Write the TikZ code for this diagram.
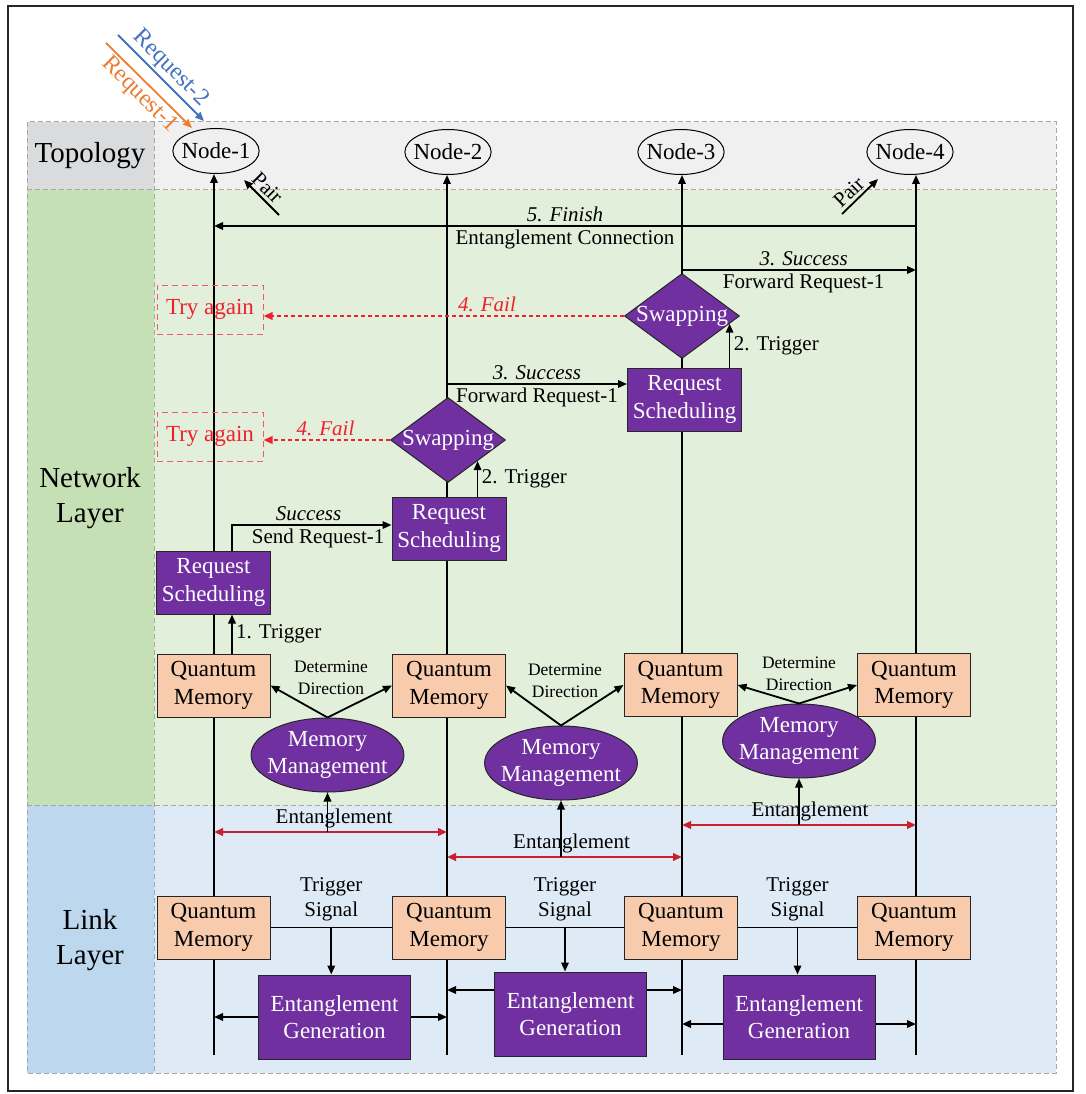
\documentclass[tikz,border=0pt]{standalone}
\usepackage{fontspec}
\setmainfont{Liberation Serif}
\usetikzlibrary{arrows.meta,shapes.geometric,calc}
\definecolor{purp}{HTML}{7030A0}
\definecolor{peach}{HTML}{F8CBAD}
\definecolor{topg}{HTML}{DADBDD}
\definecolor{topl}{HTML}{F0F0F0}
\definecolor{netg}{HTML}{C5E0B4}
\definecolor{netl}{HTML}{E2EFDA}
\definecolor{lnkg}{HTML}{BDD7EE}
\definecolor{lnkl}{HTML}{DEEBF7}
\definecolor{dashg}{HTML}{A6A6A6}
\definecolor{reqblue}{HTML}{4472C4}
\definecolor{reqorange}{HTML}{ED7D31}
\definecolor{failred}{HTML}{F0202C}
\definecolor{entred}{HTML}{C8202C}
\newcommand{\fbig}{\fontsize{29}{35}\selectfont}
\newcommand{\fmain}{\fontsize{23}{27.5}\selectfont}
\newcommand{\flab}{\fontsize{21}{25}\selectfont}
\newcommand{\fsml}{\fontsize{17.5}{22}\selectfont}
\newcommand{\fpair}{\fontsize{21}{25}\selectfont}
\tikzset{
  tip/.tip={Triangle[length=9pt,width=7.5pt]},
  ln/.style={line width=1.8pt},
  arr/.style={line width=1.8pt,-tip},
  ent/.style={line width=2.2pt,draw=entred,tip-tip},
  failarr/.style={line width=2pt,draw=failred,dash pattern=on 4pt off 3pt,-tip},
  band/.style={draw=dashg,dash pattern=on 5pt off 3pt,line width=1pt},
  topo/.style={ellipse,draw,line width=1pt,fill=topl,minimum width=86pt,minimum height=45pt,inner xsep=-4pt,inner ysep=0pt,font=\fmain},
  qm/.style={rectangle,draw=black!85,line width=1pt,fill=peach,minimum width=113pt,minimum height=63pt,inner sep=0pt,align=center,font=\fmain},
  rs/.style={rectangle,draw=black!85,line width=1pt,fill=purp,text=white,minimum width=114pt,minimum height=63pt,inner sep=0pt,align=center,font=\fmain},
  swapbox/.style={diamond,draw=black!85,line width=1pt,fill=purp,text=white,aspect=1.35,minimum width=115pt,minimum height=85pt,inner sep=-1pt,font=\fmain},
  mm/.style={ellipse,draw=black!85,line width=1pt,fill=purp,text=white,minimum width=152pt,minimum height=74pt,inner xsep=-6pt,inner ysep=0pt,align=center,font=\fmain},
  eg/.style={rectangle,draw=black!85,line width=1pt,fill=purp,text=white,minimum width=152pt,minimum height=84pt,inner sep=0pt,align=center,font=\fmain},
  tryb/.style={rectangle,draw=failred!75,dash pattern=on 6pt off 4pt,line width=1pt,minimum width=106pt,minimum height=49pt,inner sep=0pt,text=failred,font=\fmain},
  lab/.style={font=\flab},
  ilab/.style={font=\flab\itshape},
  flab/.style={font=\flab\itshape,text=failred},
}
\begin{document}
\begin{tikzpicture}[x=1pt,y=-1pt]
\useasboundingbox (0,0) rectangle (1085,1094);
\fill[white] (0,0) rectangle (1085,1094);
\draw[black!85,line width=1.2pt] (8,6) rectangle (1073,1091);
% bands
\fill[topg] (27,122) rectangle (154,190);
\fill[topl] (154,122) rectangle (1056,190);
\fill[netg] (27,190) rectangle (154,805);
\fill[netl] (154,190) rectangle (1056,805);
\fill[lnkg] (27,805) rectangle (154,1073);
\fill[lnkl] (154,805) rectangle (1056,1073);
\draw[band] (27,122) rectangle (1056,1073);
\draw[band] (154,122) -- (154,1073);
\draw[band] (27,190) -- (1056,190);
\draw[band] (27,805) -- (1056,805);
\node[font=\fbig] (ltop) at (90,156) {Topology};
\node[font=\fbig,align=center] (lnet) at (90,498) {Network\\Layer};
\node[font=\fbig,align=center] (llnk) at (90,940) {Link\\Layer};
% topology nodes
\node[topo] (n1) at (216,151) {Node-1};
\node[topo] (n2) at (448,152) {Node-2};
\node[topo] (n3) at (681,152) {Node-3};
\node[topo] (n4) at (910,152) {Node-4};
\coordinate (b1) at (214,1055);
\coordinate (b2) at (447,1055);
\coordinate (b3) at (682,1055);
\coordinate (b4) at (916,1055);
\draw[arr] (b1) -- (b1 |- n1.south);
\draw[arr] (b2) -- (b2 |- n2.south);
\draw[arr] (b3) -- (b3 |- n3.south);
\draw[arr] (b4) -- (b4 |- n4.south);
% requests
\coordinate (r2s) at (118,35);
\coordinate (r2e) at (204,121);
\coordinate (r1s) at (106,43);
\coordinate (r1e) at (192,128);
\draw[arr,draw=reqblue] (r2s) -- node[sloped,above,text=reqblue,font=\fontsize{24}{28}\selectfont,inner sep=2pt] {Request-2} (r2e);
\draw[arr,draw=reqorange] (r1s) -- node[sloped,below,text=reqorange,font=\fontsize{24}{28}\selectfont,inner sep=2pt] {Request-1} (r1e);
% pair
\coordinate (p1t) at (244,180);
\coordinate (p1s) at (279,215);
\draw[ln,tip-] (p1t) -- node[pos=0.45,sloped,above,font=\fpair,inner sep=3pt] {Pair} (p1s);
\coordinate (p4s) at (842,214);
\coordinate (p4t) at (878,179);
\draw[arr] (p4s) -- node[pos=0.4,sloped,above,font=\fpair,inner sep=3pt] {Pair} (p4t);
% network layer nodes
\node[tryb] (try1) at (210,309.5) {Try again};
\node[tryb] (try2) at (210,436.5) {Try again};
\node[swapbox] (sw3) at (682,316) {Swapping};
\node[swapbox] (sw2) at (448,440) {Swapping};
\node[rs] (rs3) at (684.5,399.5) {Request\\Scheduling};
\node[rs] (rs2) at (449,528.5) {Request\\Scheduling};
\node[rs] (rs1) at (213.5,582.5) {Request\\Scheduling};
\node[qm] (qn1) at (213.5,685.5) {Quantum\\Memory};
\node[qm] (qn2) at (449,685.5) {Quantum\\Memory};
\node[qm] (qn3) at (680.5,685) {Quantum\\Memory};
\node[qm] (qn4) at (914,685) {Quantum\\Memory};
\node[mm] (mm1) at (327.5,755) {Memory\\Management};
\node[mm] (mm2) at (561,763) {Memory\\Management};
\node[mm] (mm3) at (799,741) {Memory\\Management};
% link layer nodes
\node[qm] (ql1) at (213.5,927.5) {Quantum\\Memory};
\node[qm] (ql2) at (449,927.5) {Quantum\\Memory};
\node[qm] (ql3) at (681,927.5) {Quantum\\Memory};
\node[qm] (ql4) at (914,927.5) {Quantum\\Memory};
\node[eg] (eg1) at (334.5,1017) {Entanglement\\Generation};
\node[eg] (eg2) at (570.5,1014) {Entanglement\\Generation};
\node[eg] (eg3) at (799,1017) {Entanglement\\Generation};
% 5. finish
\coordinate (yf) at (0,226);
\draw[arr] (b4 |- yf) -- node[above,ilab] {5. Finish} node[below,lab] {Entanglement Connection} (b1 |- yf);
% node-3 success
\coordinate (ys3) at (0,270);
\draw[arr] (b3 |- ys3) -- node[pos=0.52,above,ilab] {3. Success} node[pos=0.52,below,lab] {Forward Request-1} (b4 |- ys3);
% fails
\draw[failarr] (sw3.west) -- node[pos=0.38,above,flab] {4. Fail} (try1.east |- sw3.west);
\draw[failarr] (sw2.west) -- node[pos=0.51,above,flab] {4. Fail} (try2.east |- sw2.west);
% triggers to swapping
\coordinate (t3) at ($(sw3.south)!0.82!(sw3.east)$);
\draw[arr] (t3 |- rs3.north) -- node[right,lab] {2. Trigger} (t3);
\coordinate (t2) at ($(sw2.south)!0.51!(sw2.east)$);
\draw[arr] (t2 |- rs2.north) -- node[right,lab] {2. Trigger} (t2);
% node-2 success
\coordinate (s2a) at ([yshift=15.5pt]rs3.west);
\draw[arr] (b2 |- s2a) -- node[above,ilab] {3. Success} node[below,lab] {Forward Request-1} (s2a);
% node-1 send
\coordinate (s1a) at ([yshift=3.5pt]rs2.west);
\draw[arr] ([xshift=18.5pt]rs1.north) |- node[pos=0.74,above,ilab] {Success} node[pos=0.77,below,lab] {Send Request-1} (s1a);
\draw[arr] ([xshift=18.5pt]qn1.north) -- node[right,lab] {1. Trigger} ([xshift=18.5pt]rs1.south);
% determine direction
\draw[arr] (mm1.north) -- (qn1.east);
\draw[arr] (mm1.north) -- (qn2.west);
\draw[arr] (mm2.north) -- (qn2.east);
\draw[arr] (mm2.north) -- (qn3.west);
\draw[arr] (mm3.north) -- (qn3.east);
\draw[arr] (mm3.north) -- (qn4.west);
\node[font=\fsml,align=center] (dd1) at (331,678) {Determine\\Direction};
\node[font=\fsml,align=center] (dd2) at (565,681) {Determine\\Direction};
\node[font=\fsml,align=center] (dd3) at (799,674) {Determine\\Direction};
% entanglement
\coordinate (ey1) at (0,832);
\coordinate (ey2) at (0,857);
\coordinate (ey3) at (0,825);
\draw[ent] (b1 |- ey1) -- node[pos=0.515,above,lab] {Entanglement} (b2 |- ey1);
\draw[ent] (b2 |- ey2) -- node[pos=0.53,above,lab] {Entanglement} (b3 |- ey2);
\draw[ent] (b3 |- ey3) -- node[pos=0.547,above,lab] {Entanglement} (b4 |- ey3);
\draw[arr] (mm1.south |- ey1) -- (mm1.south);
\draw[arr] (mm2.south |- ey2) -- (mm2.south);
\draw[arr] (mm3.south |- ey3) -- (mm3.south);
% link layer connectors
\draw[ln] (ql1.east) -- (ql2.west);
\draw[ln] (ql2.east) -- (ql3.west);
\draw[ln] (ql3.east) -- (ql4.west);
\coordinate (tg1) at ($(ql1.east)!0.5!(ql2.west)$);
\coordinate (tg2) at ($(ql2.east)!0.5!(ql3.west)$);
\coordinate (tg3) at ($(ql3.east)!0.5!(ql4.west)$);
\draw[arr] (tg1) -- (tg1 |- eg1.north);
\draw[arr] (tg2) -- (tg2 |- eg2.north);
\draw[arr] (tg3) -- (tg3 |- eg3.north);
\node[lab,align=center] (ts1) at ([yshift=28pt]tg1) {Trigger\\Signal};
\node[lab,align=center] (ts2) at ([yshift=28pt]tg2) {Trigger\\Signal};
\node[lab,align=center] (ts3) at ([yshift=28pt]tg3) {Trigger\\Signal};
\coordinate (e2l) at ([yshift=24pt]eg2.west);
\coordinate (e2r) at ([yshift=24pt]eg2.east);
\coordinate (e3l) at ([yshift=-7pt]eg3.west);
\coordinate (e3r) at ([yshift=-7pt]eg3.east);
\draw[arr] (eg1.west) -- (eg1.west -| b1);
\draw[arr] (eg1.east) -- (eg1.east -| b2);
\draw[arr] (e2l) -- (e2l -| b2);
\draw[arr] (e2r) -- (e2r -| b3);
\draw[arr] (e3l) -- (e3l -| b3);
\draw[arr] (e3r) -- (e3r -| b4);
\end{tikzpicture}
\end{document}
